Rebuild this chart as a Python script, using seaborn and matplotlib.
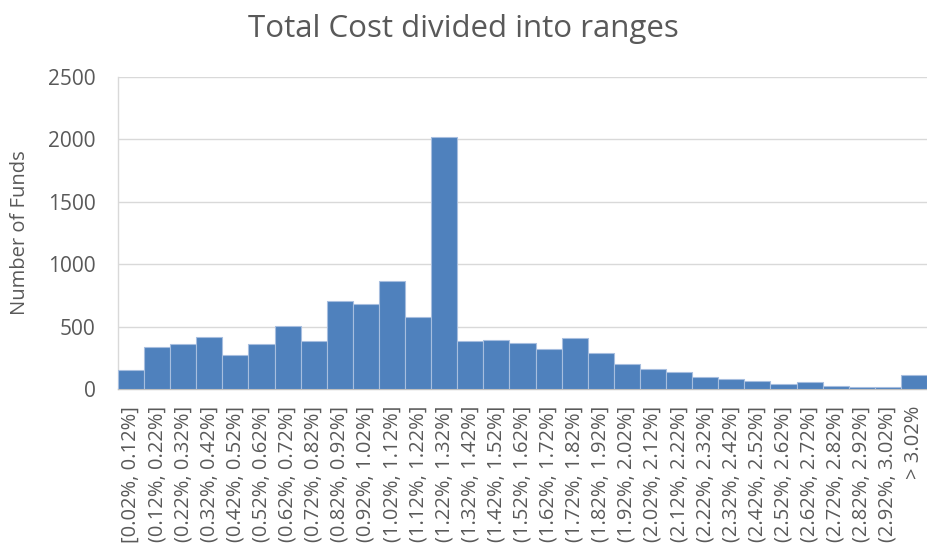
import matplotlib
matplotlib.use("Agg")
import matplotlib.pyplot as plt
import seaborn as sns
import pandas as pd

ranges = ["[0.02%, 0.12%]", "(0.12%, 0.22%]", "(0.22%, 0.32%]", "(0.32%, 0.42%]",
          "(0.42%, 0.52%]", "(0.52%, 0.62%]", "(0.62%, 0.72%]", "(0.72%, 0.82%]",
          "(0.82%, 0.92%]", "(0.92%, 1.02%]", "(1.02%, 1.12%]", "(1.12%, 1.22%]",
          "(1.22%, 1.32%]", "(1.32%, 1.42%]", "(1.42%, 1.52%]", "(1.52%, 1.62%]",
          "(1.62%, 1.72%]", "(1.72%, 1.82%]", "(1.82%, 1.92%]", "(1.92%, 2.02%]",
          "(2.02%, 2.12%]", "(2.12%, 2.22%]", "(2.22%, 2.32%]", "(2.32%, 2.42%]",
          "(2.42%, 2.52%]", "(2.52%, 2.62%]", "(2.62%, 2.72%]", "(2.72%, 2.82%]",
          "(2.82%, 2.92%]", "(2.92%, 3.02%]", "> 3.02%"]
funds = [153, 336, 358, 414, 270, 360, 505, 387, 703, 681, 865, 577,
         2020, 387, 390, 369, 318, 406, 286, 200, 158, 136, 99, 78,
         64, 43, 53, 24, 16, 16, 112]
yticks = [0, 500, 1000, 1500, 2000, 2500]

df = pd.DataFrame({"range": ranges, "funds": funds})

sns.set_theme(style="white")
plt.rcParams["font.family"] = ["Open Sans", "DejaVu Sans"]
txt = "#595959"

fig = plt.figure(figsize=(9.27, 5.5), dpi=100)
ax = fig.add_axes([118 / 927, 1 - 389 / 550, 1 - 118 / 927, (389 - 77) / 550])

sns.barplot(data=df, x="range", y="funds", color="#4F81BD", saturation=1,
            width=1.0, edgecolor="#A7BEDF", linewidth=0.8, ax=ax, zorder=3)

ax.set_ylim(0, 2500)
ax.set_yticks(yticks)
ax.set_xlim(-0.5, len(ranges) - 0.5)
ax.yaxis.grid(True, color="#D9D9D9", linewidth=1.0, zorder=0)
ax.xaxis.grid(False)
ax.set_axisbelow(True)
for s in ["top", "right"]:
    ax.spines[s].set_visible(False)
ax.spines["left"].set_color("#D9D9D9")
ax.spines["bottom"].set_color("#BFBFBF")
ax.spines["left"].set_linewidth(1.0)
ax.spines["bottom"].set_linewidth(1.0)
ax.tick_params(axis="both", length=0, colors=txt)
ax.tick_params(axis="y", labelsize=15, pad=16)
ax.tick_params(axis="x", labelsize=14.5, pad=12, rotation=90)
ax.set_xlabel("")
ax.set_ylabel("Number of Funds", fontsize=14.5, color=txt, labelpad=13)

fig.suptitle("Total Cost divided into ranges", fontsize=22.5, color=txt, y=0.975)

fig.savefig("out.png", dpi=100)
